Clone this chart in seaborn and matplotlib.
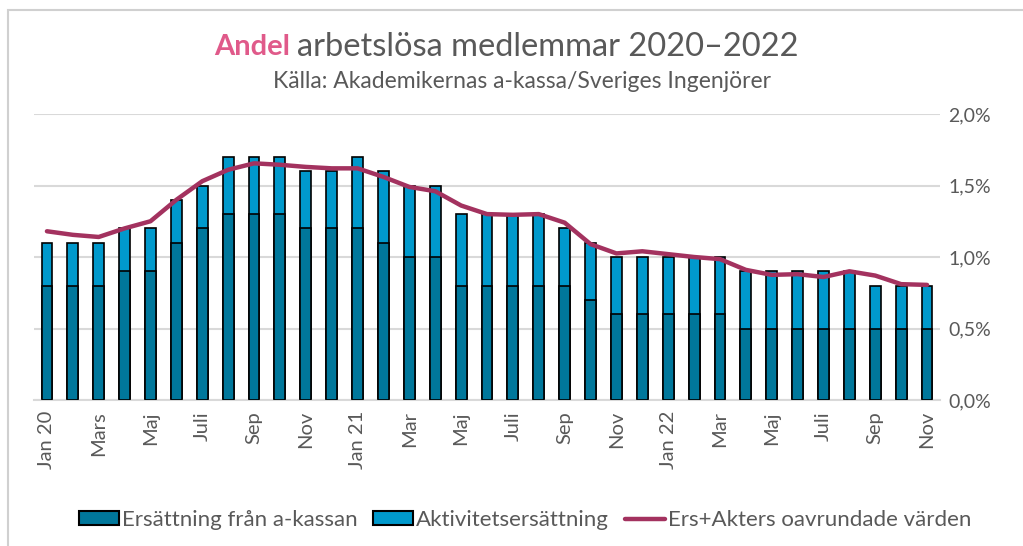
import numpy as np
import pandas as pd
import seaborn as sns
import matplotlib.pyplot as plt
from matplotlib.patches import Patch, Rectangle
from matplotlib.lines import Line2D

# Månadsdata jan 2020 - nov 2022 (andel i procent)
manader = list(range(35))
ersattning = [0.8, 0.8, 0.8, 0.9, 0.9, 1.1, 1.2, 1.3, 1.3, 1.3, 1.2, 1.2,
              1.2, 1.1, 1.0, 1.0, 0.8, 0.8, 0.8, 0.8, 0.8, 0.7, 0.6, 0.6,
              0.6, 0.6, 0.6, 0.5, 0.5, 0.5, 0.5, 0.5, 0.5, 0.5, 0.5]
totalt = [1.1, 1.1, 1.1, 1.2, 1.2, 1.4, 1.5, 1.7, 1.7, 1.7, 1.6, 1.6,
          1.7, 1.6, 1.5, 1.5, 1.3, 1.3, 1.3, 1.3, 1.2, 1.1, 1.0, 1.0,
          1.0, 1.0, 1.0, 0.9, 0.9, 0.9, 0.9, 0.9, 0.8, 0.8, 0.8]
oavrundade = [1.18, 1.155, 1.14, 1.20, 1.25, 1.40, 1.53, 1.61, 1.655, 1.645, 1.63, 1.62,
              1.62, 1.56, 1.49, 1.46, 1.36, 1.30, 1.295, 1.30, 1.24, 1.09, 1.025, 1.04,
              1.02, 1.0, 0.985, 0.91, 0.875, 0.88, 0.86, 0.90, 0.87, 0.81, 0.805]
etiketter = ["Jan 20", "Mars", "Maj", "Juli", "Sep", "Nov",
             "Jan 21", "Mar", "Maj", "Juli", "Sep", "Nov",
             "Jan 22", "Mar", "Maj", "Juli", "Sep", "Nov"]

df = pd.DataFrame({"manad": manader, "ers": ersattning, "tot": totalt, "linje": oavrundade})

morkbla = "#00779B"
ljusbla = "#0099CC"
linjefarg = "#A3325F"
grå = "#595959"

sns.set_theme(style="white")
plt.rcParams["font.family"] = ["Lato", "DejaVu Sans"]

fig = plt.figure(figsize=(10.23, 5.46), dpi=100)
ax = fig.add_axes([34 / 1023, 1 - 400 / 546, (940 - 34) / 1023, (400 - 114) / 546])

# staplade staplar: totalen först, sedan ersättningen ovanpå
sns.barplot(data=df, x="manad", y="tot", color=ljusbla, saturation=1, width=0.42,
            edgecolor="black", linewidth=1.2, ax=ax, zorder=2)
sns.barplot(data=df, x="manad", y="ers", color=morkbla, saturation=1, width=0.42,
            edgecolor="black", linewidth=1.2, ax=ax, zorder=3)
sns.lineplot(x=df["manad"], y=df["linje"], color=linjefarg, linewidth=3.2, ax=ax,
             zorder=4, solid_joinstyle="round", solid_capstyle="round")

ax.set_xlim(-0.5, 34.5)
ax.set_ylim(0, 2.0)
ax.set_yticks([0, 0.5, 1.0, 1.5, 2.0])
ax.yaxis.tick_right()
ax.set_yticklabels(["0,0%", "0,5%", "1,0%", "1,5%", "2,0%"])
ax.tick_params(axis="y", length=0, pad=6, labelsize=14, labelcolor=grå)
ax.set_xticks(manader[::2])
ax.set_xticklabels(etiketter, rotation=90, va="top", ha="center")
ax.tick_params(axis="x", length=0, pad=8, labelsize=14.5, labelcolor=grå)
ax.set_xlabel("")
ax.set_ylabel("")
ax.grid(axis="y", color="#D9D9D9", linewidth=1.5, zorder=0)
ax.set_axisbelow(True)
for s in ["top", "right", "left"]:
    ax.spines[s].set_visible(False)
ax.spines["bottom"].set_color("#D9D9D9")
ax.spines["bottom"].set_linewidth(1.5)

# titel med färgat första ord
fig.text(290 / 1023, 1 - 47 / 546, "Andel", color="#E05A8A", fontsize=21,
         fontweight="bold", ha="right", va="center")
fig.text(297 / 1023, 1 - 47 / 546, "arbetslösa medlemmar 2020–2022", color=grå,
         fontsize=23.5, ha="left", va="center")
fig.text(522 / 1023, 1 - 82 / 546, "Källa: Akademikernas a-kassa/Sveriges Ingenjörer",
         color=grå, fontsize=16.5, ha="center", va="center")

handles = [Patch(facecolor=morkbla, edgecolor="black", linewidth=1.5),
           Patch(facecolor=ljusbla, edgecolor="black", linewidth=1.5),
           Line2D([0], [0], color=linjefarg, linewidth=3.2)]
labels = ["Ersättning från a-kassan", "Aktivitetsersättning", "Ers+Akters oavrundade värden"]
fig.legend(handles, labels, loc="center", bbox_to_anchor=(525 / 1023, 1 - 520 / 546),
           ncol=3, frameon=False, fontsize=16, labelcolor=grå, handlelength=1.8,
           handleheight=0.6, handletextpad=0.15, columnspacing=0.7)

# ram runt diagrammet
fig.patches.append(Rectangle((8 / 1023, -0.1), 1.2, 1 - 10 / 546 + 0.1,
                             transform=fig.transFigure, fill=False,
                             edgecolor="#D0D0D0", linewidth=1.5))

fig.savefig("out.png", dpi=100)
